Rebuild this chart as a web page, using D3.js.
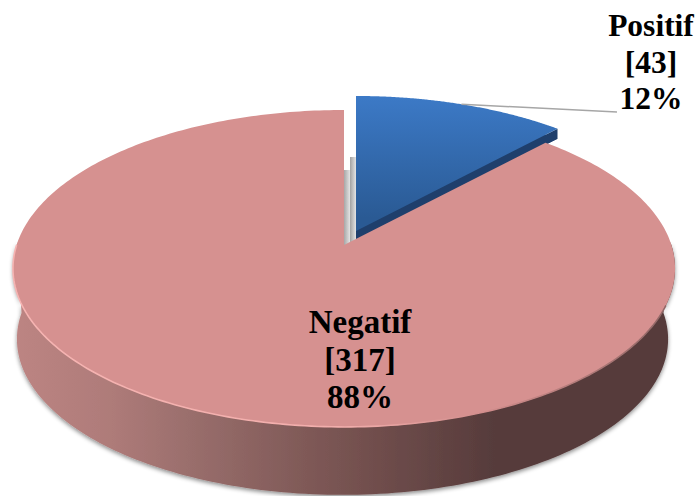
<!DOCTYPE html>
<html><head><meta charset="utf-8">
<script src="https://cdn.jsdelivr.net/npm/d3@7/dist/d3.min.js"></script>
<style>html,body{margin:0;padding:0;background:#fff}svg{display:block}
text{font-family:"Liberation Serif","Times New Roman",serif;font-weight:bold;fill:#000;text-anchor:middle}</style>
</head><body><svg id="c" width="700" height="496"></svg>
<script>
const categories = ["Positif", "Negatif"];
const counts = [43, 317];
const percents = ["12%", "88%"];

const svg = d3.select("#c");
const defs = svg.append("defs");

// Perspective-projected disc: the near edge of the pie draws larger than the far edge
const K = 0.148;
const topDisc = {cx: 344, cy: 245, R: 327.4, Y: 155};
const botDisc = {cx: 342.5, cy: 316, R: 322, Y: 152.4};
const project = (d, a, r = 1) => {
  const s = Math.sin(a) * r, c = -Math.cos(a) * r, w = 1 - K * c;
  return [d.cx + d.R * s / w, d.cy + d.Y * c / w];
};
const arcPoints = (d, a0, a1, n = 160) =>
  d3.range(n + 1).map(i => project(d, a0 + (a1 - a0) * i / n));
const line = d3.line();

const slices = d3.pie().sort(null)(counts);
const blue = slices[0], pink = slices[1];

// Gradients and filters
const wallGrad = defs.append("linearGradient").attr("id", "wall")
  .attr("gradientUnits", "userSpaceOnUse").attr("x1", 12).attr("x2", 674).attr("y1", 0).attr("y2", 0);
[[0, "#bd8583"], [0.15, "#ae7b79"], [0.28, "#986d6b"], [0.48, "#7a5553"], [0.73, "#563b3b"], [1, "#563b3b"]]
  .forEach(([o, c]) => wallGrad.append("stop").attr("offset", o).attr("stop-color", c));
const blueGrad = defs.append("linearGradient").attr("id", "blueTop")
  .attr("gradientUnits", "userSpaceOnUse").attr("x1", 0).attr("x2", 0).attr("y1", 97).attr("y2", 232);
blueGrad.append("stop").attr("offset", 0).attr("stop-color", "#3e7dcc");
blueGrad.append("stop").attr("offset", 1).attr("stop-color", "#2a5a94");
const rimGrad = defs.append("linearGradient").attr("id", "rim")
  .attr("gradientUnits", "userSpaceOnUse").attr("x1", 12).attr("x2", 674).attr("y1", 0).attr("y2", 0);
[[0, "#f6b4b2"], [0.5, "#f2aeac"], [0.72, "#d08c8b"], [1, "#8f6665"]]
  .forEach(([o, c]) => rimGrad.append("stop").attr("offset", o).attr("stop-color", c));
const gapGrad = defs.append("linearGradient").attr("id", "gap");
gapGrad.append("stop").attr("offset", 0).attr("stop-color", "#a2a2a2");
gapGrad.append("stop").attr("offset", 1).attr("stop-color", "#e4e4e4");
const shadow = defs.append("filter").attr("id", "shadow")
  .attr("x", "-5%").attr("y", "-5%").attr("width", "110%").attr("height", "110%");
shadow.append("feDropShadow").attr("dx", 0).attr("dy", 2).attr("stdDeviation", 2.2)
  .attr("flood-color", "#000").attr("flood-opacity", 0.45);
const blur = defs.append("filter").attr("id", "blur");
blur.append("feGaussianBlur").attr("stdDeviation", 0.6);

// Grey inner wall seen through the gap between the slices
const inner = svg.append("g");
inner.append("rect").attr("x", 343.5).attr("y", 170).attr("width", 6.5).attr("height", 76).attr("fill", "url(#gap)");
inner.append("rect").attr("x", 350).attr("y", 157).attr("width", 6).attr("height", 89).attr("fill", "url(#gap)");

// Pink slice: outer wall, then top face
const wallFront = arcPoints(topDisc, Math.PI * 0.5 - 0.02, Math.PI * 1.5 + 0.02);
const wallBack = arcPoints(botDisc, Math.PI * 0.5 - 0.02, Math.PI * 1.5 + 0.02).reverse();
svg.append("path").attr("d", line(wallFront.concat(wallBack)) + "Z")
  .attr("fill", "url(#wall)").attr("filter", "url(#shadow)");

// Blue slice, pulled out of the pie
const offset = [12, -14], depth = 10;
const blueG = svg.append("g").attr("transform", `translate(${offset})`);
const blueFace = [project(topDisc, 0, 0)].concat(arcPoints(topDisc, blue.startAngle, blue.endAngle));
blueG.append("path").attr("d", line(blueFace.map(([x, y]) => [x, y + depth])) + "Z").attr("fill", "#1f3f6c");
const tip = project(topDisc, blue.endAngle), hub = project(topDisc, 0, 0);
blueG.append("path").attr("d", line([hub, tip, [tip[0], tip[1] + depth], [hub[0], hub[1] + depth]]) + "Z").attr("fill", "#1f3f6c");
blueG.append("path").attr("d", line(blueFace) + "Z").attr("fill", "url(#blueTop)");

// Leader line
const lead = project(topDisc, (blue.startAngle + blue.endAngle) / 2);
svg.append("path").attr("d", line([[lead[0] + offset[0], lead[1] + offset[1]], [617, 112]]))
  .attr("fill", "none").attr("stroke", "#a6a6a6").attr("stroke-width", 1.5);

const pinkFace = [project(topDisc, 0, 0)].concat(arcPoints(topDisc, pink.startAngle, pink.endAngle, 320));
svg.append("path").attr("d", line(pinkFace) + "Z").attr("fill", "#d69190");
// Light bevel along the near rim
svg.append("path").attr("d", line(arcPoints(topDisc, Math.PI * 0.62, Math.PI * 1.5)))
  .attr("fill", "none").attr("stroke", "url(#rim)").attr("stroke-width", 1.6).attr("filter", "url(#blur)");

// Labels
const labelPos = [[651, 36], [360, 333]];
const lineGap = [36.5, 37.5];
const labelSize = [31.5, 33];
categories.forEach((name, i) => {
  const g = svg.append("text").style("font-size", labelSize[i] + "px");
  [name, `[${counts[i]}]`, percents[i]].forEach((t, j) =>
    g.append("tspan").attr("x", labelPos[i][0]).attr("y", labelPos[i][1] + j * lineGap[i]).text(t));
});
</script></body></html>
